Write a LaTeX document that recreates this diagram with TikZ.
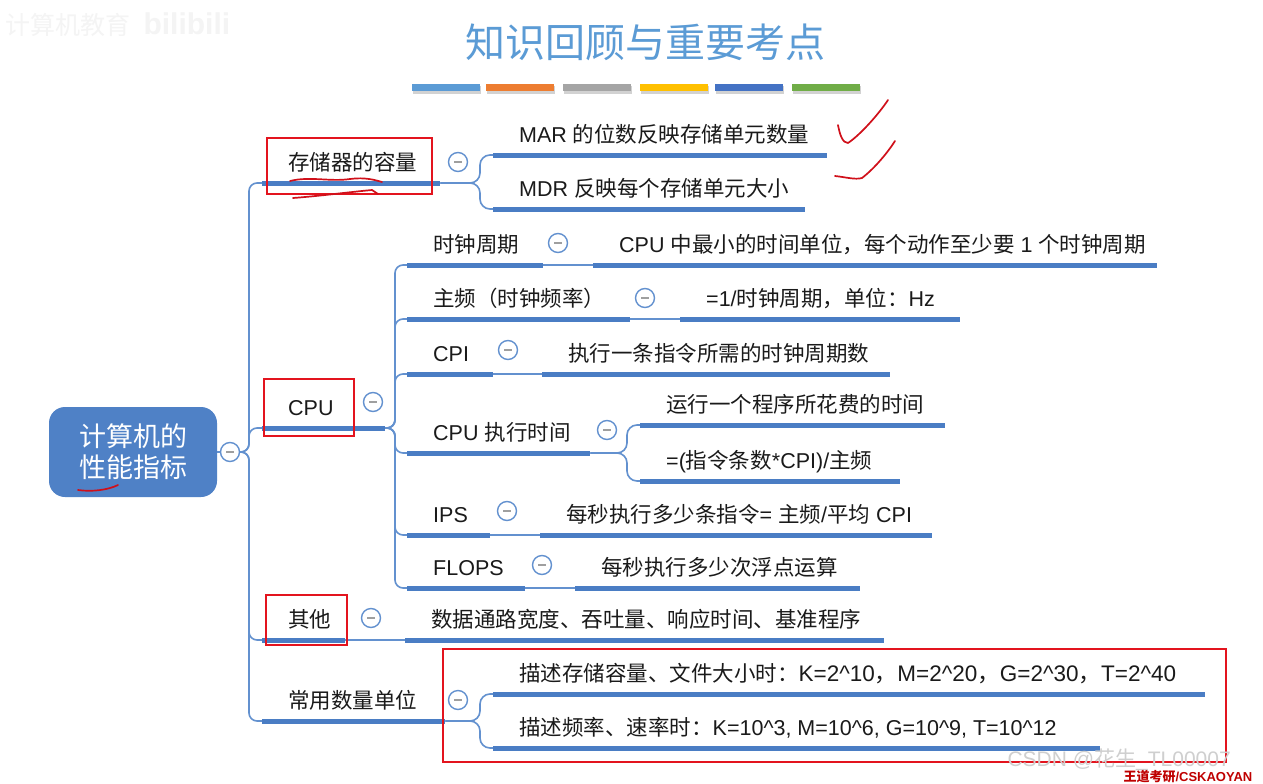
\documentclass[tikz,border=0pt]{standalone}
\usepackage{fontspec}
\setmainfont{Noto Sans CJK SC}
\newfontfamily\latf{Liberation Sans}
\newcommand\lat[1]{{\latf #1}}
\newcommand\brt[2]{\makebox[#1pt][l]{\hspace{26pt}#2}}
\definecolor{ulblue}{HTML}{4A7DC4}
\definecolor{connblue}{HTML}{6391CF}
\definecolor{rootblue}{HTML}{4F81C6}
\definecolor{titleblue}{HTML}{5B9BD5}
\definecolor{txt}{HTML}{1A1A1A}
\definecolor{redc}{HTML}{E3141E}
\definecolor{scribred}{HTML}{D0101A}
\definecolor{barA}{HTML}{5B9BD5}
\definecolor{barB}{HTML}{ED7D31}
\definecolor{barC}{HTML}{A5A5A5}
\definecolor{barD}{HTML}{FFC000}
\definecolor{barE}{HTML}{4472C4}
\definecolor{barF}{HTML}{70AD47}
\begin{document}
\begin{tikzpicture}[x=1pt,y=-1pt,
  ul/.style={line width=5pt, draw=ulblue},
  conn/.style={line width=1.6pt, draw=connblue},
  br/.style={inner sep=0pt, anchor=south west, text height=18pt, text depth=12.5pt,
    font=\fontsize{21.5}{24}\selectfont, text=txt},
  tog/.style={circle, draw=connblue, line width=1.4pt, fill=white, minimum size=19pt, inner sep=0pt,
    path picture={\draw[gray!75, line width=1.3pt]
      ([xshift=-4pt]path picture bounding box.center) -- ([xshift=4pt]path picture bounding box.center);}},
  redbox/.style={draw=redc, line width=2.6pt},
  scrib/.style={draw=scribred, line width=1.7pt, line cap=round, line join=round},
  barshadow/.style={fill=gray!35},
]
\useasboundingbox (0,0) rectangle (1263,784);
\fill[white] (0,0) rectangle (1263,784);

% faint watermark top-left
\node[anchor=west, text=gray!9, font=\fontsize{25}{28}\selectfont] (wmA) at (2,25) {计算机教育};
\node[anchor=west, text=gray!9, font=\fontsize{30}{32}\selectfont\bfseries\latf] (wmB) at (140,24) {bilibili};

% title
\node[text=titleblue, font=\fontsize{40}{44}\selectfont] (title) at (645,42) {知识回顾与重要考点};

% colour bars
\foreach \x/\c in {412/barA,486/barB,563/barC,640/barD,715/barE,792/barF}{
  \fill[barshadow] (\x+1,86) rectangle (\x+69,94);
  \fill[\c] (\x,84) rectangle (\x+68,91);
}

% root
\node[rounded corners=16pt, fill=rootblue, minimum width=168pt, minimum height=90pt, text=white,
  align=center, font=\fontsize{27}{31}\selectfont] (R) at (133,452) {计算机的\\性能指标};
\node[tog] (Rt) at (230,452) {};
\draw[conn] (R.east) -- (Rt.west);

% level 1
\node[br] (A) at (262,183) {\brt{178}{存储器的容量}};
\node[br] (B) at (262,428) {\brt{123}{\lat{CPU}}};
\node[br] (C) at (262,640) {\brt{83}{其他}};
\node[br] (D) at (262,721) {\brt{183}{常用数量单位}};

% level 2 / 3
\node[br] (A1) at (493,155) {\brt{334}{\lat{MAR }的位数反映存储单元数量}};
\node[br] (A2) at (493,209) {\brt{312}{\lat{MDR }反映每个存储单元大小}};

\node[br] (B1) at (407,265) {\brt{136}{时钟周期}};
\node[br] (B1c) at (593,265) {\brt{564}{\lat{CPU }中最小的时间单位，每个动作至少要\lat{\ 1\ }个时钟周期}};
\node[br] (B2) at (407,319) {\brt{223}{主频（时钟频率）}};
\node[br] (B2c) at (680,319) {\brt{280}{\lat{=1/}时钟周期，单位：\lat{Hz}}};
\node[br] (B3) at (407,374) {\brt{86}{\lat{CPI}}};
\node[br] (B3c) at (542,374) {\brt{348}{执行一条指令所需的时钟周期数}};
\node[br] (B4) at (407,453) {\brt{183}{\lat{CPU }执行时间}};
\node[br] (B4a) at (640,425) {\brt{305}{运行一个程序所花费的时间}};
\node[br] (B4b) at (640,481) {\brt{260}{\lat{=(}指令条数\lat{*CPI)/}主频}};
\node[br] (B5) at (407,535) {\brt{83}{\lat{IPS}}};
\node[br] (B5c) at (540,535) {\brt{392}{每秒执行多少条指令\lat{= }主频\lat{/}平均\lat{\ CPI}}};
\node[br] (B6) at (407,588) {\brt{118}{\lat{FLOPS}}};
\node[br] (B6c) at (575,588) {\brt{285}{每秒执行多少次浮点运算}};

\node[br] (C1) at (405,640) {\brt{479}{数据通路宽度、吞吐量、响应时间、基准程序}};

\node[br] (D1) at (493,694) {\brt{712}{描述存储容量、文件大小时：{\fontsize{22.5}{24}\selectfont\lat{K=2\textasciicircum10}，\lat{M=2\textasciicircum20}，\lat{G=2\textasciicircum30}，\lat{T=2\textasciicircum40}}}};
\node[br] (D2) at (493,748) {\brt{607}{描述频率、速率时：\lat{K=10\textasciicircum3, M=10\textasciicircum6, G=10\textasciicircum9, T=10\textasciicircum12}}};

% connectors
\foreach \n in {A,B,C,D}{
  \draw[conn, rounded corners=8pt] (Rt.east) -- (249,452) |- (\n.south west);
}
\foreach \n in {A1,A2}{
  \draw[conn, rounded corners=10pt] (A.south east) -- (480,183) |- (\n.south west);
}
\foreach \n in {B1,B2,B3,B4,B5,B6}{
  \draw[conn, rounded corners=8pt] (B.south east) -- (395,428) |- (\n.south west);
}
\foreach \n in {B4a,B4b}{
  \draw[conn, rounded corners=10pt] (B4.south east) -- (627,453) |- (\n.south west);
}
\foreach \n in {D1,D2}{
  \draw[conn, rounded corners=10pt] (D.south east) -- (480,721) |- (\n.south west);
}
\draw[conn] (B1.south east) -- (B1c.south west);
\draw[conn] (B2.south east) -- (B2c.south west);
\draw[conn] (B3.south east) -- (B3c.south west);
\draw[conn] (B5.south east) -- (B5c.south west);
\draw[conn] (B6.south east) -- (B6c.south west);
\draw[conn] (C.south east) -- (C1.south west);

% underlines
\foreach \n in {A,B,C,D,A1,A2,B1,B1c,B2,B2c,B3,B3c,B4,B4a,B4b,B5,B5c,B6,B6c,C1,D1,D2}{
  \draw[ul] (\n.south west) -- (\n.south east);
}

% toggles
\node[tog] (tA) at (458,162) {};
\node[tog] (tB) at (373,402) {};
\node[tog] (tC) at (371,618) {};
\node[tog] (tD) at (458,700) {};
\node[tog] (tB1) at (558,243) {};
\node[tog] (tB2) at (645,298) {};
\node[tog] (tB3) at (508,350) {};
\node[tog] (tB4) at (607,430) {};
\node[tog] (tB5) at (507,511) {};
\node[tog] (tB6) at (542,565) {};

% red highlight boxes
\draw[redbox] (267,138) rectangle (432,194);
\draw[redbox] (264,379) rectangle (354,436);
\draw[redbox] (266,595) rectangle (347,645);
\draw[redbox] (443,649) rectangle (1226,762);

% red handwriting
\draw[scrib] (290,181) .. controls (310,176) and (330,182) .. (350,179) .. controls (365,177) and (375,180) .. (382,182);
\draw[scrib] (293,198) .. controls (320,196) and (350,192) .. (372,190) -- (378,194);
\draw[scrib] (78,490) .. controls (92,492) and (108,490) .. (118,485);
\draw[scrib] (838,125) .. controls (840,136) and (843,143) .. (848,143) .. controls (860,135) and (878,115) .. (888,100);
\draw[scrib] (835,176) .. controls (845,177) and (855,180) .. (862,178) .. controls (875,168) and (888,152) .. (895,141);

% watermarks bottom-right
\node[anchor=west, text=gray!38, font=\fontsize{21}{23}\selectfont] (wmC) at (1004,760) {\lat{CSDN @}花生\lat{\_TL00007}};
\node[anchor=west, text=red!75!black, font=\fontsize{13}{14}\selectfont\bfseries] (wmD) at (1120,777) {王道考研\lat{/CSKAOYAN}};
\end{tikzpicture}
\end{document}
